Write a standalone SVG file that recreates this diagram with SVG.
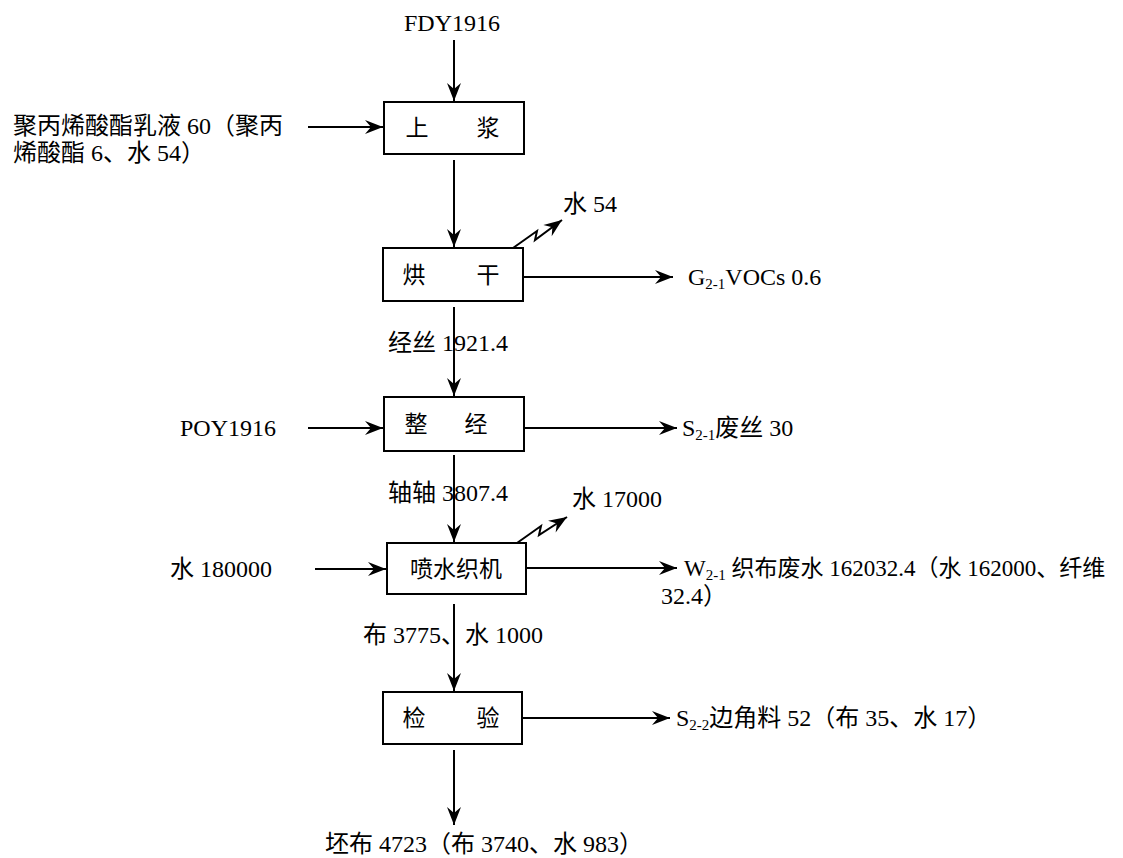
<svg xmlns="http://www.w3.org/2000/svg" width="1123" height="858" viewBox="0 0 1123 858">
<style>
text{font-family:"Liberation Serif","Noto Sans CJK SC",serif;font-size:24px;fill:#000}
.bx{font-size:23px}
.w{font-size:23px}
.box{fill:#fff;stroke:#000;stroke-width:2}
.ln{fill:none;stroke:#000;stroke-width:2}
.sub{font-size:15px}
</style>
<defs>
<marker id="ah" markerWidth="22" markerHeight="16" viewBox="-19 -8 20 16" refX="0" refY="0" orient="auto" markerUnits="userSpaceOnUse">
<path d="M0,0 L-18,-7 L-12,0 L-18,7 Z" fill="#000"/>
</marker>
</defs>
<rect width="1123" height="858" fill="#fff"/>
<g id="connectors">
<line class="ln" x1="454" y1="40" x2="454" y2="101" marker-end="url(#ah)"/>
<line class="ln" x1="308" y1="127" x2="383" y2="127" marker-end="url(#ah)"/>
<line class="ln" x1="454" y1="160" x2="454" y2="247" marker-end="url(#ah)"/>
<path class="ln" d="M513,248 L537,231 L535,240 L562,220" marker-end="url(#ah)"/>
<line class="ln" x1="523" y1="277" x2="673" y2="277" marker-end="url(#ah)"/>
<line class="ln" x1="454" y1="307" x2="454" y2="396" marker-end="url(#ah)"/>
<line class="ln" x1="308" y1="428" x2="383" y2="428" marker-end="url(#ah)"/>
<line class="ln" x1="524" y1="428" x2="677" y2="428" marker-end="url(#ah)"/>
<line class="ln" x1="454" y1="455" x2="454" y2="542" marker-end="url(#ah)"/>
<path class="ln" d="M517,543 L541,526 L539,535 L567,517" marker-end="url(#ah)"/>
<line class="ln" x1="315" y1="569" x2="386" y2="569" marker-end="url(#ah)"/>
<line class="ln" x1="526" y1="568" x2="677" y2="568" marker-end="url(#ah)"/>
<line class="ln" x1="454" y1="604" x2="454" y2="691" marker-end="url(#ah)"/>
<line class="ln" x1="522" y1="718" x2="670" y2="718" marker-end="url(#ah)"/>
<line class="ln" x1="454" y1="750" x2="454" y2="825" marker-end="url(#ah)"/>
</g>
<g id="n-shangjiang">
<rect class="box" x="384" y="102" width="140" height="52"/>
<text class="bx" x="417" y="136" text-anchor="middle">上</text>
<text class="bx" x="488" y="136" text-anchor="middle">浆</text>
</g>
<g id="n-hongan">
<rect class="box" x="383" y="248" width="140" height="53"/>
<text class="bx" x="414" y="283" text-anchor="middle">烘</text>
<text class="bx" x="488" y="283" text-anchor="middle">干</text>
</g>
<g id="n-zhengjing">
<rect class="box" x="384" y="397" width="140" height="54"/>
<text class="bx" x="416" y="432" text-anchor="middle">整</text>
<text class="bx" x="476" y="432" text-anchor="middle">经</text>
</g>
<g id="n-penshui">
<rect class="box" x="387" y="543" width="139" height="51"/>
<text class="bx" x="456" y="577" text-anchor="middle">喷水织机</text>
</g>
<g id="n-jianyan">
<rect class="box" x="383" y="692" width="139" height="52"/>
<text class="bx" x="414" y="726" text-anchor="middle">检</text>
<text class="bx" x="488" y="726" text-anchor="middle">验</text>
</g>
<g id="labels">
<text x="404" y="31">FDY1916</text>
<text x="13" y="134">聚丙烯酸酯乳液 60（聚丙</text>
<text x="13" y="161">烯酸酯 6、水 54）</text>
<text x="563" y="212">水 54</text>
<text x="688" y="285">G<tspan class="sub" dy="4">2-1</tspan><tspan dy="-4">VOCs 0.6</tspan></text>
<text x="388" y="351">经丝 1921.4</text>
<text x="180" y="436">POY1916</text>
<text x="682" y="436">S<tspan class="sub" dy="4">2-1</tspan><tspan dy="-4">废丝 30</tspan></text>
<text x="388" y="501">轴轴 3807.4</text>
<text x="572" y="507">水 17000</text>
<text x="170" y="577">水 180000</text>
<text class="w" x="684" y="576">W<tspan class="sub" dy="4">2-1</tspan><tspan dy="-4"> 织布废水 162032.4（水 162000、纤维</tspan></text>
<text x="661" y="604">32.4）</text>
<text x="363" y="643">布 3775、水 1000</text>
<text x="676" y="726">S<tspan class="sub" dy="4">2-2</tspan><tspan dy="-4">边角料 52（布 35、水 17）</tspan></text>
<text x="325" y="852">坯布 4723（布 3740、水 983）</text>
</g>
</svg>
